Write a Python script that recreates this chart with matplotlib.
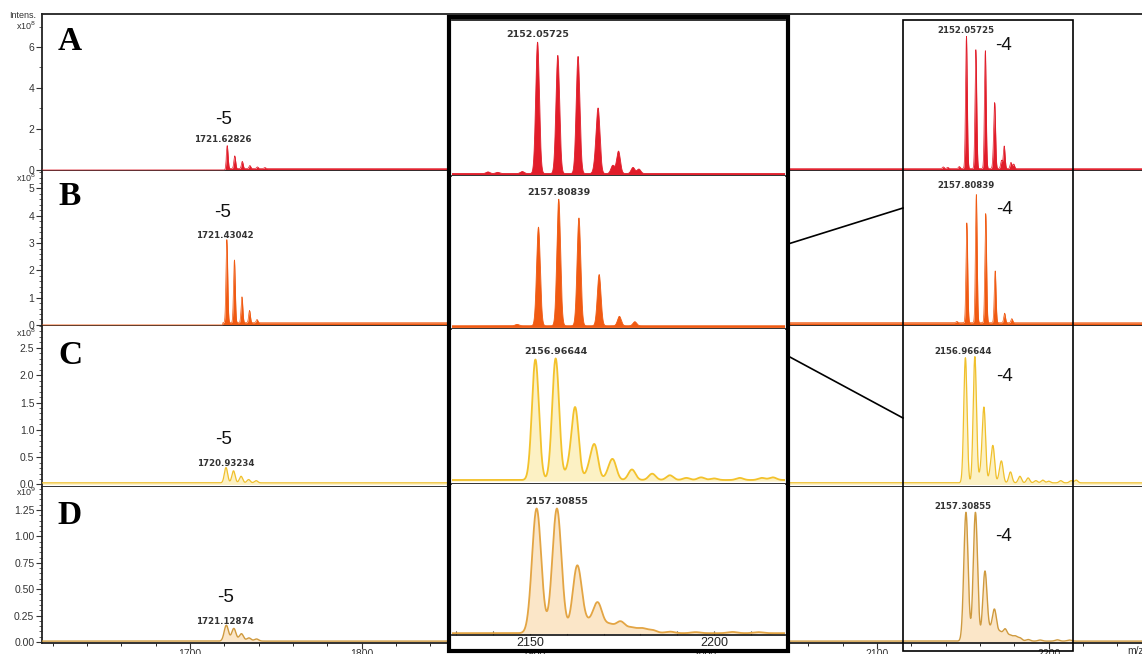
import numpy as np
import matplotlib
matplotlib.use('Agg')
import matplotlib.pyplot as plt
from matplotlib.patches import Rectangle
from matplotlib.lines import Line2D
from matplotlib.ticker import MultipleLocator, FormatStrFormatter

# ---------------- data (peak lists) ----------------
# Panel A (x10^8)
A_mz = [1721.63, 1726.03, 1730.43, 1734.83, 1739.23, 1743.6,
        2138.6, 2141.2, 2147.9, 2152.06, 2157.56, 2163.06,
        2167.9, 2168.56, 2172.5, 2174.06, 2178.0, 2179.6]
A_int = [1.12, 0.62, 0.35, 0.15, 0.08, 0.05,
         0.08, 0.06, 0.10, 6.45, 5.8, 5.75,
         0.6, 2.95, 0.4, 1.1, 0.3, 0.22]
# Panel B (x10^8)
B_mz = [1721.43, 1725.83, 1730.23, 1734.63, 1739.0,
        2146.5, 2152.3, 2157.81, 2163.3, 2168.8, 2174.3, 2178.5]
B_int = [3.05, 2.3, 0.95, 0.45, 0.12,
         0.05, 3.66, 4.7, 4.0, 1.9, 0.35, 0.15]
# Panel C (x10^8)
C_mz = [1720.93, 1725.3, 1729.7, 1734.1, 1738.5,
        2151.47, 2156.97, 2160.6, 2162.3, 2166.1, 2167.6, 2171.4, 2172.6,
        2177.7, 2183.2, 2188.0, 2192.5, 2196.5, 2200.0, 2207.0, 2213.0, 2216.0]
C_int = [0.28, 0.22, 0.12, 0.06, 0.04,
         2.29, 2.31, 0.22, 1.34, 0.2, 0.62, 0.12, 0.34,
         0.20, 0.12, 0.09, 0.04, 0.05, 0.03, 0.04, 0.04, 0.05]
# Panel D (x10^9)
D_mz = [1721.13, 1725.5, 1729.9, 1734.3, 1738.7,
        2151.8, 2157.31, 2162.85, 2165.9, 2168.4, 2171.6, 2174.6, 2177.6,
        2180.4, 2183.2, 2188.0, 2195.0, 2205.0, 2212.0]
D_int = [0.15, 0.12, 0.07, 0.03, 0.02,
         1.22, 1.22, 0.66, 0.08, 0.29, 0.08, 0.11, 0.05,
         0.045, 0.03, 0.015, 0.01, 0.012, 0.01]

panel_letters = ['A', 'B', 'C', 'D']
charge5_labels = ['1721.62826', '1721.43042', '1720.93234', '1721.12874']
charge4_labels = ['2152.05725', '2157.80839', '2156.96644', '2157.30855']
charge4_peaks = [2152.06, 2157.81, 2156.97, 2157.31]
charge5_peaks = [1721.63, 1721.43, 1720.93, 1721.13]
noise_level = [0.07, 0.08, 0.03, 0.008]
noise_start = [1721.0, 1719.0, 1600.0, 1600.0]

A_ticks = [0, 2, 4, 6]
B_ticks = [0, 1, 2, 3, 4, 5]
C_ticks = [0.0, 0.5, 1.0, 1.5, 2.0, 2.5]
D_ticks = [0.00, 0.25, 0.50, 0.75, 1.00, 1.25]
main_xticks = [1700, 1800, 1900, 2000, 2100, 2200]
inset_xticks = [2150, 2200]

# ---------------- figure geometry ----------------
W, H = 1142, 654
fig = plt.figure(figsize=(W / 100, H / 100), dpi=100)


def rect(x0, y0, x1, y1):
    return [x0 / W, 1 - y1 / H, (x1 - x0) / W, (y1 - y0) / H]


main_rows = [(14, 171), (171, 326), (326, 487), (487, 643)]
inset_rows = [(20, 176), (176, 329), (329, 484), (484, 635)]
ylims = [(-0.05, 7.61), (-0.04, 5.64), (-0.046, 2.90), (-0.01, 1.468)]
yticks = [A_ticks, B_ticks, C_ticks, D_ticks]
yminor = [1, 0.2, 0.1, 0.05]
yfmt = ['%d', '%d', '%.1f', '%.2f']
scales = ['x10$^8$', 'x10$^8$', 'x10$^8$', 'x10$^9$']
line_colors = ['#e11d2a', '#f05a12', '#f3c22c', '#e3a544']
main_line_colors = ['#e11d2a', '#f05a12', '#f0c02c', '#cf9a3e']
fill_colors = ['#e11d2a', '#f05a12', '#fcf1c4', '#fbe6c8']
main_lw = [0.5, 0.5, 0.9, 1.0]
inset_lw = [0.6, 0.6, 1.3, 1.3]
sigmas = [0.5, 0.5, 0.95, 1.25]
mzs = [A_mz, B_mz, C_mz, D_mz]
ints = [A_int, B_int, C_int, D_int]

XMIN, XMAX = 1613.8, 2254.3
IXMIN, IXMAX = 2128.8, 2219.3
grid = np.arange(1600.0, 2260.0, 0.02)

# offsets in pixels (label / charge text relative to the labelled peak)
m5_label_off = [(-4, 6), (-2, 4), (0, 4), (-1, 4)]
m5_charge_off = [(-4, 26), (-4, 27), (-2, 28), (-1, 28)]
m4_label_off = [(-1, 6), (-10, 9), (-12, 5), (-13, 6)]
m4_charge_off = [(37, -9), (28, -15), (30, -20), (28, -24)]
i4_label_off = [(0, 3), (0, 2), (0, 2), (0, 3)]
letter_pos = [(70, 42), (70, 196), (70, 356), (70, 516)]
scale_pos = [(26, 26), (26, 178), (26, 333), (26, 492)]

label_font = dict(family='DejaVu Sans', fontsize=6.2, fontweight='bold', color='#333333')
charge_font = dict(family='Liberation Sans', fontsize=13.5, color='#111111')


def profile(i):
    y = np.where(grid >= noise_start[i], noise_level[i], 0.0)
    for c, h in zip(mzs[i], ints[i]):
        y = y + h * np.exp(-0.5 * ((grid - c) / sigmas[i]) ** 2)
    return y


for i in range(4):
    y = profile(i)
    top, bot = main_rows[i]
    ax = fig.add_axes(rect(42, top, 1142, bot))
    ax.fill_between(grid, 0, y, color=fill_colors[i], lw=0, zorder=2)
    ax.plot(grid, y, color=main_line_colors[i], lw=main_lw[i], zorder=3)
    ax.set_xlim(XMIN, XMAX)
    ax.set_ylim(*ylims[i])
    ax.spines['right'].set_visible(False)
    ax.spines['top'].set_visible(i == 0)
    for s in ['left', 'bottom', 'top']:
        ax.spines[s].set_linewidth(1.3)
        ax.spines[s].set_color('#222222')
    ax.set_yticks(yticks[i])
    ax.yaxis.set_major_formatter(FormatStrFormatter(yfmt[i]))
    ax.yaxis.set_minor_locator(MultipleLocator(yminor[i]))
    ax.tick_params(axis='y', which='major', direction='out', length=4, width=0.8,
                   labelsize=7.5, pad=1.5, colors='#333333')
    ax.tick_params(axis='y', which='minor', direction='out', length=2, width=0.6, colors='#444444')
    for t in ax.get_yticklabels():
        t.set_family('Liberation Sans')
    if i == 3:
        ax.set_xticks(main_xticks)
        ax.xaxis.set_minor_locator(MultipleLocator(20))
        ax.tick_params(axis='x', which='major', direction='out', length=4, width=0.8,
                       labelsize=7.5, pad=0.5, colors='#333333')
        ax.tick_params(axis='x', which='minor', direction='out', length=2.5, width=0.6)
        for t in ax.get_xticklabels():
            t.set_family('Liberation Sans')
    else:
        ax.set_xticks([])

    # charge -5 annotation
    p5 = charge5_peaks[i]
    h5 = float(np.interp(p5, grid, y))
    ax.annotate(charge5_labels[i], xy=(p5, h5), xytext=m5_label_off[i],
                textcoords='offset pixels', ha='center', va='center', **label_font)
    ax.annotate('-5', xy=(p5, h5), xytext=m5_charge_off[i],
                textcoords='offset pixels', ha='center', va='center', **charge_font)
    # charge -4 annotation (region shown by the thin box)
    p4 = charge4_peaks[i]
    h4 = float(np.interp(p4, grid, y))
    ax.annotate(charge4_labels[i], xy=(p4, h4), xytext=m4_label_off[i],
                textcoords='offset pixels', ha='center', va='center', **label_font)
    ax.annotate('-4', xy=(p4, h4), xytext=m4_charge_off[i],
                textcoords='offset pixels', ha='center', va='center', **charge_font)

    lx, ly = letter_pos[i]
    fig.text(lx / W, 1 - ly / H, panel_letters[i], family='Liberation Serif',
             fontweight='bold', fontsize=24, ha='center', va='center')
    sx, sy = scale_pos[i]
    fig.text(sx / W, 1 - sy / H, scales[i], family='Liberation Sans', fontsize=6.5,
             ha='center', va='center', color='#333333')

fig.text(23 / W, 1 - 16 / H, 'Intens.', family='Liberation Sans', fontsize=6.5,
         ha='center', va='center', color='#333333')
fig.text(1136 / W, 1 - 651 / H, 'm/z', family='Liberation Sans', fontsize=7.5,
         ha='center', va='center', color='#333333')

# white backing of the inset (hides the main panels under it)
fig.add_artist(Rectangle((451 / W, 1 - 650 / H), (786 - 451) / W, (650 - 19) / H,
                         transform=fig.transFigure, facecolor='white', edgecolor='none',
                         zorder=4))

# ---------------- zoomed inset ----------------
for i in range(4):
    y = profile(i)
    top, bot = inset_rows[i]
    ax = fig.add_axes(rect(452, top, 785, bot), zorder=5)
    ax.set_facecolor('white')
    ax.fill_between(grid, 0, y, color=fill_colors[i], lw=0, zorder=2)
    ax.plot(grid, y, color=line_colors[i], lw=inset_lw[i], zorder=3)
    ax.set_xlim(IXMIN, IXMAX)
    ax.set_ylim(*ylims[i])
    ax.spines['left'].set_visible(False)
    ax.spines['right'].set_visible(False)
    ax.spines['top'].set_visible(i == 0)
    for s in ['bottom', 'top']:
        ax.spines[s].set_linewidth(1.3)
        ax.spines[s].set_color('#222222')
    ax.set_yticks([])
    if i == 3:
        ax.set_xticks(inset_xticks)
        ax.xaxis.set_minor_locator(MultipleLocator(10))
        ax.tick_params(axis='x', which='both', direction='in', length=3, width=0.8,
                       labelsize=9, pad=1.5, colors='#222222')
        for t in ax.get_xticklabels():
            t.set_family('Liberation Sans')
    else:
        ax.set_xticks([])
    p4 = charge4_peaks[i]
    h4 = float(np.interp(p4, grid, y))
    ax.annotate(charge4_labels[i], xy=(p4, h4), xytext=i4_label_off[i],
                textcoords='offset pixels', ha='center', va='bottom',
                fontsize=6.8, fontweight='bold', family='DejaVu Sans', color='#333333')

# thick frame round the inset
fig.add_artist(Rectangle((449 / W, 1 - 651 / H), (788 - 449) / W, (651 - 17) / H,
                         transform=fig.transFigure, fill=False, lw=3.0,
                         edgecolor='black', zorder=20))
# thin box round the -4 region
fig.add_artist(Rectangle((903 / W, 1 - 651 / H), (1073 - 903) / W, (651 - 20) / H,
                         transform=fig.transFigure, fill=False, lw=1.2,
                         edgecolor='black', zorder=20))
# connector lines
for (x0, y0, x1, y1) in [(788, 244, 903, 208), (788, 356, 903, 418)]:
    fig.add_artist(Line2D([x0 / W, x1 / W], [1 - y0 / H, 1 - y1 / H],
                          transform=fig.transFigure, color='black', lw=1.2, zorder=20))

fig.savefig('out.png', dpi=100)
